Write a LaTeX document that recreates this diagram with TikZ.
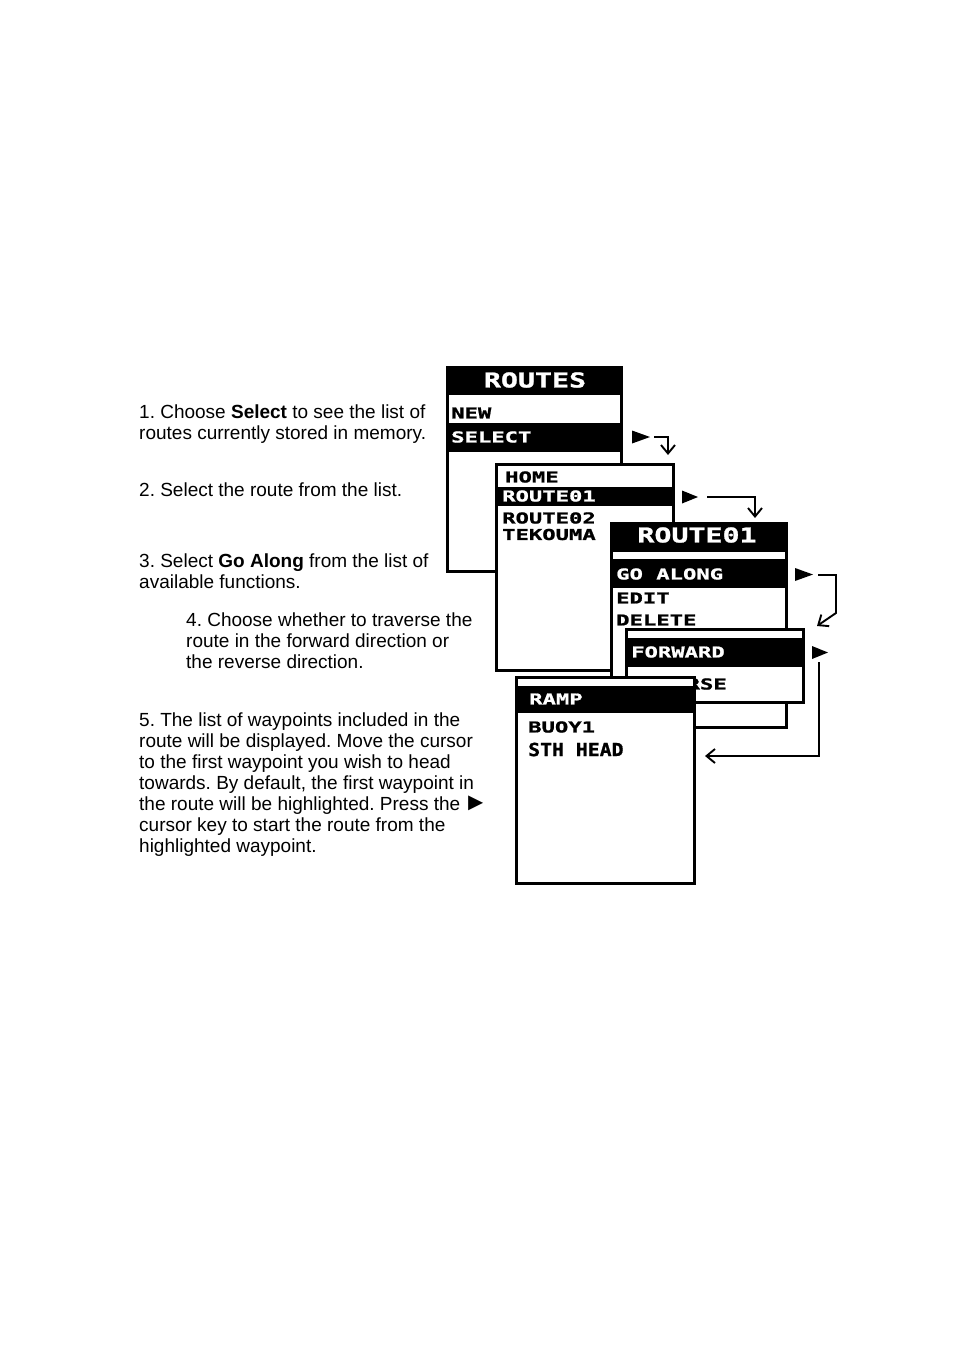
\documentclass[tikz,border=0pt]{standalone}
\usepackage{fontspec}
\setmainfont{Liberation Sans}
\newfontfamily\lcdfont[FakeStretch=1.48, FakeBold=1.2]{DejaVu Sans Mono}
\newfontfamily\lcdtitlefont[FakeStretch=1.38, FakeBold=1.2]{DejaVu Sans Mono}
\newfontfamily\lcdbigfont[FakeStretch=1.1, FakeBold=1]{DejaVu Sans Mono}
\usetikzlibrary{arrows.meta}
\frenchspacing

\tikzset{
  screen/.style={draw=black, fill=white, line width=3pt},
  item/.style={anchor=west, inner sep=0pt, font=\lcdfont\bfseries\fontsize{15}{15}\selectfont},
  title/.style={inner sep=0pt, text=white, font=\lcdtitlefont\bfseries\fontsize{20.5}{20.5}\selectfont},
  bigitem/.style={anchor=west, inner sep=0pt, font=\lcdbigfont\bfseries\fontsize{18}{18}\selectfont},
  note/.style={anchor=north west, inner sep=0pt, align=left, font=\fontsize{19}{21}\selectfont},
  link/.style={line width=1.9pt, ->},
}

\begin{document}
\begin{tikzpicture}[x=1pt, y=-1pt, >={Straight Barb[length=8.5pt,width=14pt]}]
        % ==== PAGE ====
        \useasboundingbox (0,0) rectangle (954,1357);

        % ==== STEPS ====
        \node[note] (stepOne) at (139,404.5) {1. Choose \textbf{Select} to see the list of\\routes currently stored in memory.};
        \node[note] (stepTwo) at (139,482.5) {2. Select the route from the list.};
        \node[note] (stepThree) at (139,553.5) {3. Select \textbf{Go Along} from the list of\\available functions.};
        \node[note] (stepFour) at (186,612.5) {4. Choose whether to traverse the\\route in the forward direction or\\the reverse direction.};
        \node[note] (stepFive) at (139,713) {5. The list of waypoints included in the\\route will be displayed. Move the cursor\\to the first waypoint you wish to head\\towards. By default, the first waypoint in\\the route will be highlighted. Press the\,{\fontsize{25}{21}\selectfont ►}\\cursor key to start the route from the\\highlighted waypoint.};

        % ==== SCREEN 1: ROUTES ====
        \filldraw[screen] (447.5,367.5) rectangle (621.5,571.5);
        \fill (446,366) rectangle (623,395);
        \node[title] (routesTitle) at (535,380) {ROUTES};
        \node[item] (newItem) at (451,413) {NEW};
        \fill (446,423) rectangle (623,452);
        \node[item, text=white] (selectItem) at (451,437) {SELECT};

        % ==== SCREEN 2: ROUTE LIST ====
        \filldraw[screen] (496.5,464.5) rectangle (673.5,670.5);
        \fill (495,487) rectangle (675,506);
        \node[item] (homeItem) at (505,477) {HOME};
        \node[item, text=white] (routeOneItem) at (502,496) {ROUTE01};
        \node[item] (routeTwoItem) at (502,518) {ROUTE02};
        \node[item] (tekoumaItem) at (502,534.5) {TEKOUMA};

        % ==== SCREEN 3: ROUTE01 ====
        \filldraw[screen] (611.5,523.5) rectangle (786.5,727.5);
        \fill (610,522) rectangle (788,552);
        \fill (610,559) rectangle (788,588);
        \node[title] (routeOneTitle) at (697,535) {ROUTE01};
        \node[item, text=white] (goAlongItem) at (616,574) {GO ALONG};
        \node[item] (editItem) at (616,598) {EDIT};
        \node[item] (deleteItem) at (616,620) {DELETE};

        % ==== SCREEN 4: DIRECTION ====
        \filldraw[screen] (626.5,629.5) rectangle (803.5,702.5);
        \fill (625,638) rectangle (805,667);
        \node[item, text=white] (forwardItem) at (631,652) {FORWARD};
        \node[item] (reverseItem) at (633,684) {REVERSE};

        % ==== SCREEN 5: WAYPOINTS ====
        \filldraw[screen] (516.5,677.5) rectangle (694.5,883.5);
        \fill (515,686) rectangle (696,713);
        \node[item, text=white] (rampItem) at (529,699) {RAMP};
        \node[item] (buoyItem) at (528,727) {BUOY1};
        \node[bigitem] (sthHeadItem) at (528,749.5) {STH HEAD};

        % ==== CURSORS ====
        \fill (632,430.5) -- (650,437) -- (632,443.5) -- cycle;
        \fill (682,490.5) -- (698,497) -- (682,503.5) -- cycle;
        \fill (795,568) -- (813,574.5) -- (795,581) -- cycle;
        \fill (812,646) -- (828,652.5) -- (812,659) -- cycle;

        % ==== CONNECTORS ====
        \coordinate (selectOut) at (654,437);
        \coordinate (listIn) at (668,455);
        \coordinate (routeOut) at (707,497);
        \coordinate (routeIn) at (755,518);
        \coordinate (goAlongOut) at (818,575);
        \coordinate (goAlongBend) at (836,613);
        \coordinate (directionIn) at (817,626);
        \coordinate (forwardOut) at (819,662);
        \coordinate (waypointIn) at (705,756);

        \draw[link] (selectOut) -| (listIn);
        \draw[link] (routeOut) -| (routeIn);
        \draw[link] (goAlongOut) -| (goAlongBend) -- (directionIn);
        \draw[link] (forwardOut) |- (waypointIn);

    \end{tikzpicture}
\end{document}
